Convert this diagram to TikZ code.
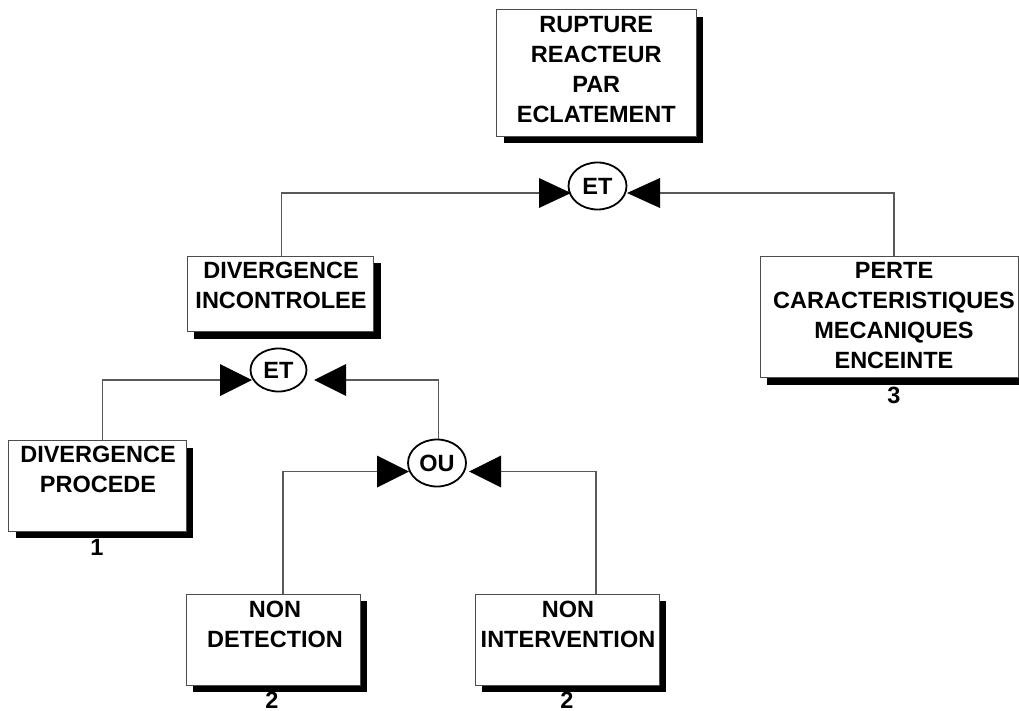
\documentclass[tikz,border=0pt]{standalone}
\usepackage{fontspec}
\setmainfont{Liberation Sans}
\usetikzlibrary{shapes.geometric,shadows,calc}

\tikzset{
  evbox/.style={draw=black!70, line width=1pt, fill=white, inner sep=0pt,
    drop shadow={shadow xshift=7pt, shadow yshift=-7pt, fill=black, opacity=1}},
  evtext/.style={anchor=north, inner sep=0pt, align=center,
    font=\bfseries\fontsize{23.5}{30}\selectfont},
  evnum/.style={anchor=base, inner sep=0pt, font=\bfseries\fontsize{23.5}{30}\selectfont},
  gate/.style={ellipse, draw=black, line width=1.8pt, fill=white, inner sep=0pt,
    font=\bfseries\fontsize{23.5}{30}\selectfont},
  wire/.style={draw=black!65, line width=1.1pt},
  tipR/.style={fill=black},
}

\begin{document}
\begin{tikzpicture}[x=1pt, y=-1pt]
\clip (0,0) rectangle (1019,711);
\fill[white] (0,0) rectangle (1019,711);

% ---------- event boxes ----------
\node[evbox, minimum width=199.5, minimum height=126.5] (top)   at (596.25,73.25)  {};
\node[evbox, minimum width=186.5, minimum height=75.5]  (dinc)  at (280.25,293.75) {};
\node[evbox, minimum width=258,   minimum height=121.5] (perte) at (889,316.75)    {};
\node[evbox, minimum width=177.5, minimum height=90.5]  (dproc) at (97.25,485.75)  {};
\node[evbox, minimum width=174,   minimum height=91]    (ndet)  at (273,639.5)     {};
\node[evbox, minimum width=184,   minimum height=91]    (nint)  at (567,639.5)     {};

\node[evtext] (topT)   at (596.25,16.5) {RUPTURE\\REACTEUR\\PAR\\ECLATEMENT};
\node[evtext] (dincT)  at (281,262)     {DIVERGENCE\\INCONTROLEE};
\node[evtext] (perteT) at (894,262)     {PERTE\\CARACTERISTIQUES\\MECANIQUES\\ENCEINTE};
\node[evtext] (dprocT) at (98,446)      {DIVERGENCE\\PROCEDE};
\node[evtext] (ndetT)  at (275,601)     {NON\\DETECTION};
\node[evtext] (nintT)  at (568,601)     {NON\\INTERVENTION};

\node[evnum] (n3)  at (894,403) {3};
\node[evnum] (n1)  at (97,555)  {1};
\node[evnum] (n2a) at (272,708) {2};
\node[evnum] (n2b) at (567,708) {2};

% ---------- gates ----------
\node[gate, minimum width=58, minimum height=47] (g1) at (597.5,186) {ET};
\node[gate, minimum width=56, minimum height=43] (g2) at (278.5,370) {ET};
\node[gate, minimum width=58, minimum height=47] (g3) at (437,463)   {OU};

% input points (bases of the arrow heads)
\coordinate (g1L) at (539,193);   \coordinate (g1R) at (660,193);
\coordinate (g2L) at (220,380);   \coordinate (g2R) at (346,380);
\coordinate (g3L) at (377,471.5); \coordinate (g3R) at (501,471.5);

% ---------- connectors ----------
\draw[wire] ($(dinc.north)+(1.5,0)$) |- (g1L);
\draw[wire] (perteT.north |- perte.north) |- (g1R);
\draw[wire] ($(dproc.north)+(5,0)$) |- (g2L);
\draw[wire] (g2R) -| ($(g3.north)+(1.5,0)$);
\draw[wire] ($(ndet.north)+(10,0)$) |- (g3L);
\draw[wire] ($(nint.north)+(29,0)$) |- (g3R);

% ---------- arrow heads ----------
\fill[tipR] (g1L) ++(0,-15) -- ++(32,15) -- ++(-32,15) -- cycle;
\fill[tipR] (g1R) ++(0,-15) -- ++(-33,15) -- ++(33,15) -- cycle;
\fill[tipR] (g2L) ++(0,-16) -- ++(32,16) -- ++(-32,16) -- cycle;
\fill[tipR] (g2R) ++(0,-16) -- ++(-32,16) -- ++(32,16) -- cycle;
\fill[tipR] (g3L) ++(0,-16) -- ++(32,16) -- ++(-32,16) -- cycle;
\fill[tipR] (g3R) ++(0,-16) -- ++(-32,16) -- ++(32,16) -- cycle;
\end{tikzpicture}
\end{document}
